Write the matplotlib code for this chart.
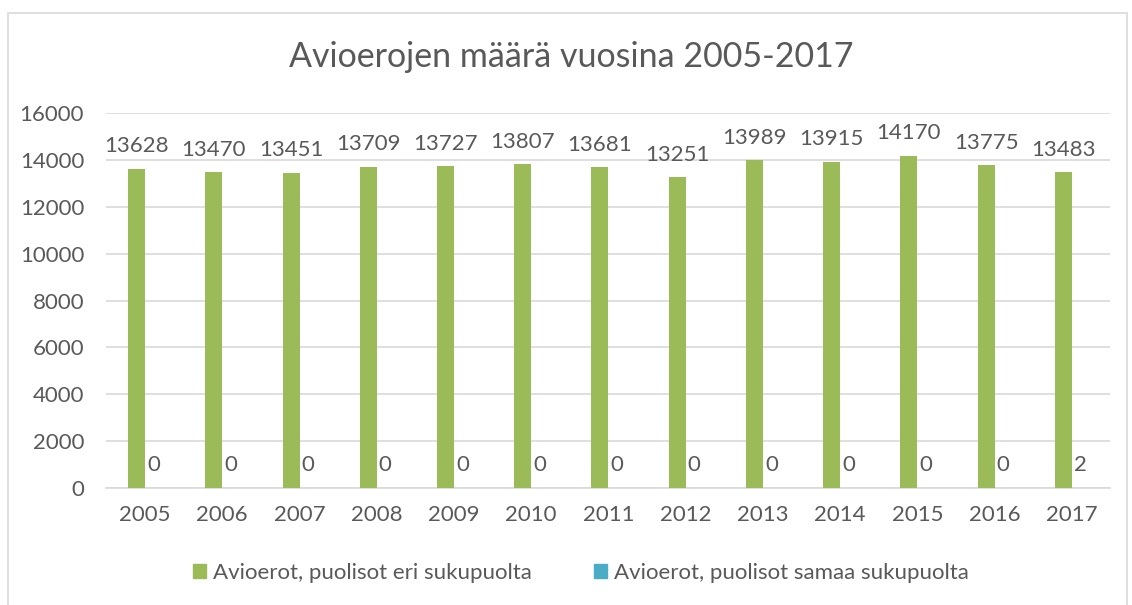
import numpy as np
import matplotlib.pyplot as plt
from matplotlib.patches import Rectangle, Patch

years = ['2005', '2006', '2007', '2008', '2009', '2010', '2011', '2012', '2013', '2014', '2015', '2016', '2017']
eri = [13628, 13470, 13451, 13709, 13727, 13807, 13681, 13251, 13989, 13915, 14170, 13775, 13483]
samaa = [0, 0, 0, 0, 0, 0, 0, 0, 0, 0, 0, 0, 2]
yticks = np.arange(0, 16001, 2000)

c_green, c_teal = '#9BBB59', '#4BACC6'
c_text, c_grid = '#595959', '#D9D9D9'
fs = 16

plt.rcParams['font.family'] = ['Lato', 'DejaVu Sans']

fig = plt.figure(figsize=(11.32, 6.05), dpi=100)
ax = fig.add_axes([0.094, 0.1934, 0.887, 0.6198])

x = np.arange(len(years))
w = 0.22
b1 = ax.bar(x - w/2, eri, w, color=c_green, label='Avioerot, puolisot eri sukupuolta', zorder=3)
b2 = ax.bar(x + w/2, samaa, w, color=c_teal, label='Avioerot, puolisot samaa sukupuolta', zorder=3)

for bars, vals in [(b1, eri), (b2, samaa)]:
    for r, v in zip(bars, vals):
        ax.annotate('%d' % v, (r.get_x() + r.get_width()/2, v), xytext=(0, 9), textcoords='offset points',
                    ha='center', va='bottom', fontsize=fs, color=c_text)

ax.set_xlim(-0.5, len(years) - 0.5)
ax.set_ylim(0, 16000)
ax.set_yticks(yticks)
ax.set_xticks(x)
ax.set_xticklabels(years)
ax.tick_params(axis='both', length=0, labelsize=fs, labelcolor=c_text)
ax.tick_params(axis='x', pad=12)
ax.tick_params(axis='y', pad=16)
ax.grid(axis='y', color=c_grid, lw=1.2, zorder=0)
for s in ['top', 'right', 'left']:
    ax.spines[s].set_visible(False)
ax.spines['bottom'].set_color(c_grid)
ax.spines['bottom'].set_linewidth(1.2)

fig.text(0.505, 1 - 57/605, 'Avioerojen määrä vuosina 2005-2017', ha='center', va='center',
         fontsize=24.5, color=c_text)

handles = [Patch(color=c_green), Patch(color=c_teal)]
fig.legend(handles, ['Avioerot, puolisot eri sukupuolta', 'Avioerot, puolisot samaa sukupuolta'],
           loc='center', bbox_to_anchor=(0.513, 1 - 573/605), ncol=2, frameon=False,
           fontsize=fs, labelcolor=c_text, handlelength=0.6, handleheight=0.6,
           handletextpad=0.3, columnspacing=2.8)

fig.patches.append(Rectangle((8/1132, -0.05), 1119/1132, 1.05 - 13/605, transform=fig.transFigure,
                             fill=False, edgecolor=c_grid, lw=1.2))

plt.savefig('out.png', dpi=100)
